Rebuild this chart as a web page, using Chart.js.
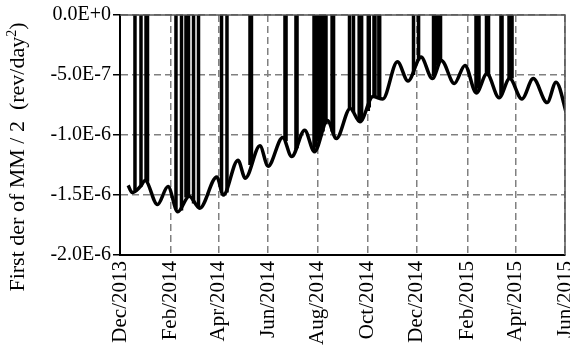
<!DOCTYPE html>
<html>
<head>
<meta charset="utf-8">
<script src="https://cdn.jsdelivr.net/npm/chart.js@4/dist/chart.umd.min.js"></script>
<style>
    html, body { margin: 0; padding: 0; background: #fff; }
</style>
</head>
<body>
<canvas id="deriv-chart" width="570" height="351"></canvas>
<script>
// x values are days counted from 1 Dec 2013
const monthTicks = [0, 62, 121, 182, 243, 304, 365, 427, 486, 547];
const monthLabels = ['Dec/2013', 'Feb/2014', 'Apr/2014', 'Jun/2014', 'Aug/2014',
                     'Oct/2014', 'Dec/2014', 'Feb/2015', 'Apr/2015', 'Jun/2015'];

// smooth part of the derivative (rev/day^2)
const baseDays = [10, 15, 25, 31, 46, 59, 71, 85, 98, 119, 127, 145, 154, 172, 182,
                  200, 211, 227, 239, 255, 266, 283, 295, 311, 323, 341, 354, 370,
                  384, 395, 411, 424, 438, 451, 466, 479, 494, 508, 525, 536, 550];
const baseValues = [-1.42e-6, -1.48e-6, -1.43e-6, -1.38e-6, -1.58e-6, -1.43e-6, -1.64e-6,
                    -1.51e-6, -1.61e-6, -1.35e-6, -1.50e-6, -1.21e-6, -1.36e-6, -1.09e-6,
                    -1.26e-6, -1.02e-6, -1.18e-6, -0.96e-6, -1.14e-6, -0.88e-6, -1.03e-6,
                    -0.78e-6, -0.89e-6, -0.68e-6, -0.70e-6, -0.39e-6, -0.55e-6, -0.35e-6,
                    -0.53e-6, -0.38e-6, -0.57e-6, -0.42e-6, -0.65e-6, -0.49e-6, -0.69e-6,
                    -0.53e-6, -0.70e-6, -0.53e-6, -0.73e-6, -0.56e-6, -0.85e-6];

// jumps that leave the plot: [day up, day down, value before, value after]
const spikes = [
    [18.4, 25.8, -1.46e-6, -1.43e-6],
    [32.0, 33.8, -1.38e-6, -1.39e-6],
    [68.8, 75.6, -1.62e-6, -1.63e-6],
    [81.1, 84.2, -1.52e-6, -1.51e-6],
    [90.4, 96.5, -1.57e-6, -1.61e-6],
    [124.8, 131.5, -1.47e-6, -1.48e-6],
    [159.8, 161.6, -1.25e-6, -1.24e-6],
    [202.8, 204.1, -1.04e-6, -1.05e-6],
    [216.3, 217.6, -1.12e-6, -1.11e-6],
    [238.5, 240.9, -1.13e-6, -1.10e-6],
    [244.0, 247.0, -1.05e-6, -1.01e-6],
    [249.5, 253.2, -0.97e-6, -0.91e-6],
    [260.7, 262.5, -0.97e-6, -0.99e-6],
    [282.1, 287.0, -0.78e-6, -0.81e-6],
    [294.0, 297.0, -0.88e-6, -0.88e-6],
    [305.2, 306.4, -0.80e-6, -0.77e-6],
    [312.2, 313.4, -0.68e-6, -0.68e-6],
    [318.2, 319.2, -0.69e-6, -0.69e-6],
    [360.8, 367.0, -0.50e-6, -0.38e-6],
    [385.4, 387.2, -0.51e-6, -0.49e-6],
    [390.9, 394.0, -0.42e-6, -0.38e-6],
    [437.6, 441.3, -0.65e-6, -0.61e-6],
    [450.5, 453.0, -0.49e-6, -0.51e-6],
    [468.3, 469.6, -0.67e-6, -0.66e-6],
    [478.2, 481.9, -0.53e-6, -0.53e-6]
];
const spikeTop = 1e-6;

const serif = 'Liberation Serif, Times New Roman, serif';

const basePoints = baseDays.map((d, i) => ({ x: d, y: baseValues[i] }));
const spikePoints = [];
spikes.forEach(([up, down, v0, v1]) => {
    spikePoints.push({ x: up, y: v0 }, { x: up, y: spikeTop },
                     { x: down, y: spikeTop }, { x: down, y: v1 },
                     { x: down, y: null });
});

// dark frame along the top and right of the plot area
const plotFrame = {
    id: 'plotFrame',
    afterDraw(chart) {
        const { ctx, chartArea: a } = chart;
        ctx.save();
        ctx.strokeStyle = '#555';
        ctx.lineWidth = 1.5;
        ctx.beginPath();
        ctx.moveTo(a.left, a.top);
        ctx.lineTo(a.right, a.top);
        ctx.lineTo(a.right, a.bottom);
        ctx.stroke();
        ctx.restore();
    }
};

// y axis title with a raised small "2" for the unit
const yTitle = {
    id: 'yTitle',
    afterDraw(chart) {
        const { ctx } = chart;
        const main = 'First der of MM / 2  (rev/day';
        const sup = '2';
        const tail = ')';
        ctx.save();
        ctx.translate(24, 157);
        ctx.rotate(-Math.PI / 2);
        ctx.fillStyle = '#000';
        ctx.textBaseline = 'alphabetic';
        ctx.font = '22px ' + serif;
        const wMain = ctx.measureText(main).width;
        const wTail = ctx.measureText(tail).width;
        ctx.font = '14px ' + serif;
        const wSup = ctx.measureText(sup).width;
        let x = -(wMain + wSup + wTail) / 2;
        ctx.font = '22px ' + serif;
        ctx.fillText(main, x, 0);
        x += wMain;
        ctx.font = '14px ' + serif;
        ctx.fillText(sup, x, -8);
        x += wSup;
        ctx.font = '22px ' + serif;
        ctx.fillText(tail, x, 0);
        ctx.restore();
    }
};

const ctx = document.getElementById('deriv-chart').getContext('2d');
new Chart(ctx, {
    type: 'line',
    data: {
        datasets: [{
            data: basePoints,
            borderColor: '#000',
            borderWidth: 3.5,
            pointRadius: 0,
            cubicInterpolationMode: 'monotone',
            clip: 0
        }, {
            data: spikePoints,
            borderColor: '#000',
            borderWidth: 3.5,
            pointRadius: 0,
            tension: 0,
            spanGaps: false,
            clip: 0
        }]
    },
    options: {
        responsive: false,
        animation: false,
        devicePixelRatio: 1,
        layout: { padding: { top: 15, right: 5, left: 0, bottom: 0 } },
        plugins: { legend: { display: false }, tooltip: { enabled: false } },
        scales: {
            x: {
                type: 'linear',
                min: 0,
                max: 547,
                afterBuildTicks: scale => {
                    scale.ticks = monthTicks.map(v => ({ value: v }));
                },
                afterFit: scale => {
                    scale.height = 96;
                    scale.paddingLeft = 0;
                    scale.paddingRight = 0;
                },
                ticks: {
                    autoSkip: false,
                    minRotation: 90,
                    maxRotation: 90,
                    padding: 6,
                    color: '#000',
                    font: { family: serif, size: 21 },
                    callback: value => monthLabels[monthTicks.indexOf(value)]
                },
                grid: { color: '#808080', lineWidth: 1.5, drawTicks: false },
                border: { color: '#000', width: 2, dash: [7, 4] }
            },
            y: {
                min: -2e-6,
                max: 0,
                afterFit: scale => {
                    scale.width = 120;
                    scale.paddingTop = 0;
                    scale.paddingBottom = 0;
                },
                ticks: {
                    stepSize: 5e-7,
                    padding: 2,
                    color: '#000',
                    font: { family: serif, size: 20 },
                    callback: value => value.toExponential(1).toUpperCase()
                },
                grid: {
                    color: '#808080',
                    lineWidth: 1.5,
                    tickLength: 7,
                    tickColor: '#000',
                    tickWidth: 1.5,
                    tickBorderDash: []
                },
                border: { color: '#000', width: 2, dash: [7, 4] }
            }
        }
    },
    plugins: [plotFrame, yTitle]
});
</script>
</body>
</html>
